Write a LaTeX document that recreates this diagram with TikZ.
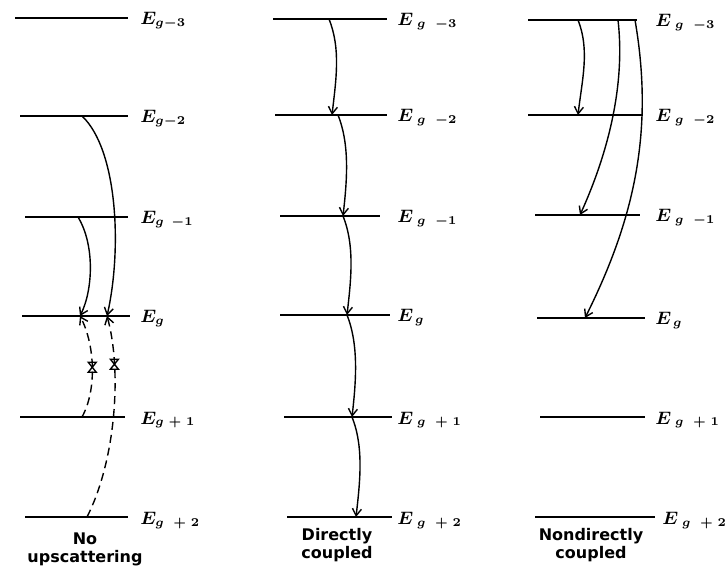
\documentclass[tikz,border=0pt]{standalone}
\usepackage{fontspec}
\setsansfont{DejaVu Sans}
\usetikzlibrary{arrows.meta}

\begin{document}
\begin{tikzpicture}[x=0.5pt, y=-0.5pt, font=\small,
  lvl/.style={line width=1pt},
  tr/.style={line width=0.7pt, -{Straight Barb[length=3.5pt,width=4.5pt]}},
  upsc/.style={tr, dash pattern=on 4pt off 2.5pt},
  elab/.style={anchor=base west, inner sep=0pt, font=\small\boldmath},
  caption/.style={align=center, inner sep=0pt, font=\sffamily\bfseries\fontsize{8}{9}\selectfont},
]
\useasboundingbox (0,0) rectangle (728,566);

% energy levels
\foreach \k/\y/\xa/\xb/\s in {m3/18/15/128/{g-3}, m2/116/20/128/{g-2}, m1/217/25/128/{g\;\,-1},
    z/316/22/130/{g}, p1/417/20/125/{g\;+\;1}, p2/517/25/128/{g\;\;+\;2}}{
  \draw[lvl] (\xa,\y) coordinate (n\k l) -- (\xb,\y) coordinate (n\k r);
  \node[elab] (nE\k) at (140,\y+7) {$E_{\s}$};
}
\foreach \k/\y/\xa/\xb/\s in {m3/19/273/387/{\;g\;\;-3}, m2/115/275/387/{\;g\;\;-2}, m1/216/280/380/{\;g\;\;-1},
    z/315/280/390/{\,g}, p1/417/284/392/{\;g\;\;+\;1}, p2/517/287/392/{\;g\;\;+\;2}}{
  \draw[lvl] (\xa,\y) coordinate (d\k l) -- (\xb,\y) coordinate (d\k r);
  \node[elab] (dE\k) at (397,\y+7) {$E_{\s}$};
}
\foreach \k/\y/\xa/\xb/\s/\lx in {m3/20/528/637/{\;g\;\;-3}/655, m2/115/528/643/{\;g\;\;-2}/655, m1/215/535/640/{\;g\;\;-1}/655,
    z/318/537/645/{\,g}/655, p1/417/540/645/{\;g\;\;+\;1}/655, p2/517/535/655/{\;g\;\;+\;2}/662}{
  \draw[lvl] (\xa,\y) coordinate (i\k l) -- (\xb,\y) coordinate (i\k r);
  \node[elab] (iE\k) at (\lx,\y+7) {$E_{\s}$};
}

% no upscattering
\coordinate (n1) at (82,116);
\coordinate (n3) at (78,217);
\coordinate (nA) at (80,316);
\coordinate (nB) at (107,316);
\coordinate (n5) at (82,417);
\coordinate (n7) at (87,517);
\draw[tr] (n1) .. controls +(36,34) and +(15,-66) .. (nB);
\draw[tr] (n3) .. controls +(17,28) and +(13,-26) .. (nA);
\draw[upsc] (n5) .. controls +(15,-27) and +(15,29) .. node[pos=0.5, coordinate] (nx1) {} (nA);
\draw[upsc] (n7) .. controls +(29,-57) and +(15,54) .. node[pos=0.74, coordinate] (nx2) {} (nB);
\foreach \x in {nx1, nx2}
  \draw[line width=0.7pt] (\x) ++(-4,-5) -- ++(8,0) -- ++(-8,10) -- ++(8,0) -- cycle;

% directly coupled
\coordinate (d0) at (329,19);
\coordinate (d1) at (332,115);
\coordinate (d1s) at (338,115);
\coordinate (d2) at (343,216);
\coordinate (d3) at (347,315);
\coordinate (d4) at (352,417);
\coordinate (d5) at (356,517);
\draw[tr] (d0) .. controls +(12,30) and +(4,-35) .. (d1);
\draw[tr] (d1s) .. controls +(12,30) and +(4,-35) .. (d2);
\draw[tr] (d2) .. controls +(12,30) and +(4,-35) .. (d3);
\draw[tr] (d3) .. controls +(12,30) and +(4,-35) .. (d4);
\draw[tr] (d4) .. controls +(12,30) and +(4,-35) .. (d5);

% nondirectly coupled
\coordinate (i1) at (578,20);
\coordinate (i2) at (618,20);
\coordinate (i3) at (635,20);
\coordinate (i1e) at (578,115);
\coordinate (i2e) at (580,215);
\coordinate (i3e) at (585,318);
\draw[tr] (i1) .. controls +(12,30) and +(4,-35) .. (i1e);
\draw[tr] (i2) .. controls +(8,70) and +(25,-55) .. (i2e);
\draw[tr] (i3) .. controls +(19,110) and +(50,-100) .. (i3e);

\node[caption] (cn) at (85,549) {No\\upscattering};
\node[caption] (cd) at (337,545) {Directly\\coupled};
\node[caption] (ci) at (591,545) {Nondirectly\\coupled};
\end{tikzpicture}
\end{document}
